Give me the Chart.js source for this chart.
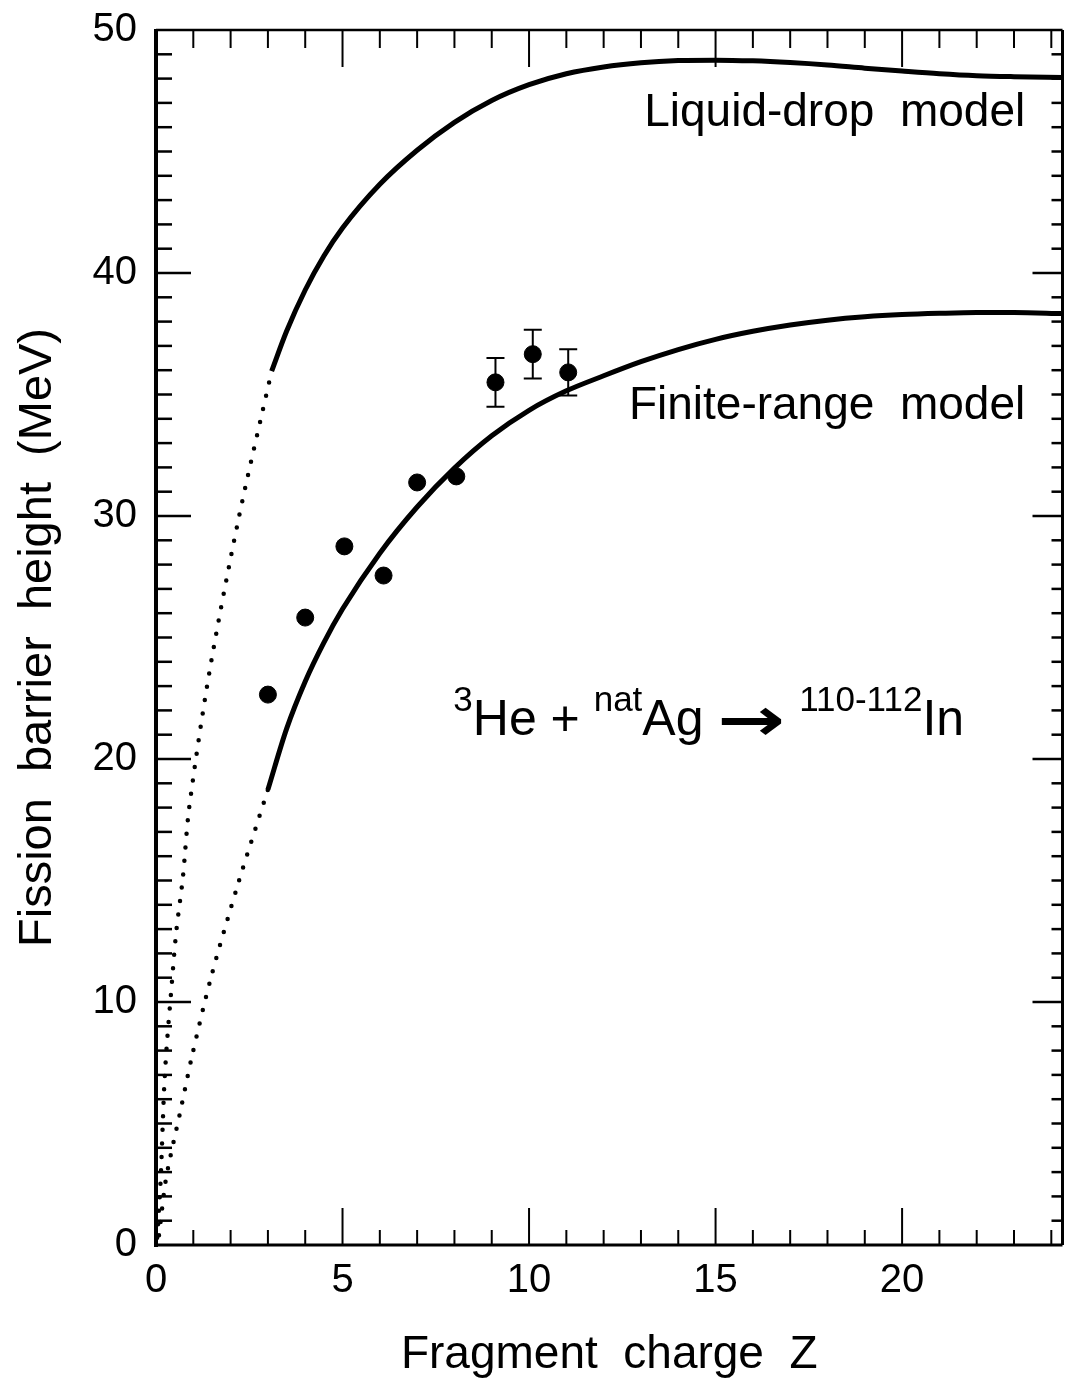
<!DOCTYPE html>
<html>
<head>
<meta charset="utf-8">
<script src="https://cdn.jsdelivr.net/npm/chart.js@4.4.1/dist/chart.umd.min.js"></script>
<style>
  html, body { margin: 0; padding: 0; background: #fff; }
  #wrap { width: 1072px; height: 1386px; position: relative; }
</style>
</head>
<body>
<div id="wrap"><canvas id="chart"></canvas></div>
<script>
// Liquid-drop model (solid part)
const ldZ = [3.1, 3.5, 4.0, 4.5, 5.0, 6.0, 7.0, 8.0, 9.0, 10.0, 11.0, 12.0, 13.0, 14.0, 15.0, 16.0, 17.0, 18.0, 19.0, 20.0, 21.0, 22.0, 23.0, 24.3];
const ldB = [35.96, 37.6, 39.3, 40.7, 41.85, 43.65, 45.05, 46.2, 47.1, 47.75, 48.2, 48.48, 48.65, 48.74, 48.76, 48.73, 48.66, 48.56, 48.43, 48.31, 48.2, 48.12, 48.08, 48.05];
// Liquid-drop model (dotted extrapolation)
const ldExtZ = [0.03, 0.12, 0.22, 0.29, 0.41, 0.54, 0.72, 0.89, 1.43, 2.21, 3.1];
const ldExtB = [0.3, 2.55, 6.5, 8.24, 10.5, 12.85, 15.12, 18.0, 23.56, 29.86, 35.96];

// Finite-range model (solid part)
const frZ = [3.0, 3.5, 4.0, 4.5, 5.0, 6.0, 7.0, 8.0, 9.0, 10.0, 11.0, 12.0, 13.0, 14.0, 15.0, 16.0, 17.0, 18.0, 19.0, 20.0, 21.0, 22.0, 23.0, 24.3];
const frB = [18.74, 21.24, 23.19, 24.79, 26.17, 28.47, 30.37, 31.97, 33.3, 34.35, 35.15, 35.77, 36.35, 36.85, 37.27, 37.6, 37.86, 38.06, 38.2, 38.29, 38.34, 38.37, 38.37, 38.33];
// Finite-range model (dotted extrapolation)
const frExtZ = [0.08, 0.25, 0.39, 0.65, 0.96, 1.48, 2.21, 3.0];
const frExtB = [0.4, 2.55, 3.67, 5.48, 7.74, 11.04, 14.91, 18.74];

// Measured barriers, 3He + natAg
const expZ = [3.0, 4.0, 5.05, 6.1, 7.0, 8.05, 9.1, 10.1, 11.05];
const expB = [22.65, 25.82, 28.75, 27.55, 31.38, 31.63, 35.5, 36.66, 35.91];
const expErr = [0, 0, 0, 0, 0, 0, 1.0, 1.0, 0.95];

const xTickLabels = [0, 5, 10, 15, 20];
const yTickLabels = [0, 10, 20, 30, 40, 50];

const FONT = "'Liberation Sans', Arial, Helvetica, sans-serif";
Chart.defaults.font.family = FONT;
Chart.defaults.color = '#000';

function pts(xs, ys) {
    return xs.map((v, i) => ({ x: v, y: ys[i] }));
}

function noPad(s) {
    s.paddingTop = 0;
    s.paddingBottom = 0;
    s.paddingLeft = 0;
    s.paddingRight = 0;
}

// inward ticks on all four sides + frame
const framePlugin = {
    id: 'frame',
    afterDatasetsDraw(chart) {
        const { ctx, chartArea: a, scales: { x, y } } = chart;
        ctx.save();
        ctx.strokeStyle = '#000';
        ctx.lineCap = 'butt';

        function seg(x1, y1, x2, y2) {
            ctx.beginPath();
            ctx.moveTo(x1, y1);
            ctx.lineTo(x2, y2);
            ctx.stroke();
        }

        ctx.lineWidth = 2;
        for (let v = 1; v <= 24; v++) {
            const px = x.getPixelForValue(v);
            const major = v % 5 === 0;
            seg(px, a.bottom, px, a.bottom - (major ? 37 : 15));
            seg(px, a.top, px, a.top + (major ? 37 : 18));
        }
        ctx.lineWidth = 2.5;
        for (let v = 1; v < 50; v++) {
            const py = y.getPixelForValue(v);
            const major = v % 10 === 0;
            seg(a.left, py, a.left + (major ? 35 : 16), py);
            seg(a.right, py, a.right - (major ? 30 : 11), py);
        }

        ctx.lineWidth = 4;
        seg(a.left, a.top - 1, a.left, a.bottom + 2);
        ctx.lineWidth = 3;
        seg(a.left, a.bottom, a.right, a.bottom);
        seg(a.right, a.top, a.right, a.bottom);
        ctx.lineWidth = 2.5;
        seg(a.left, a.top, a.right, a.top);
        ctx.restore();
    }
};

// error bars for the measured points
const errorBarPlugin = {
    id: 'errorBars',
    afterDatasetsDraw(chart) {
        const { ctx, scales: { x, y } } = chart;
        ctx.save();
        ctx.strokeStyle = '#000';
        ctx.lineWidth = 2;
        expZ.forEach((z, i) => {
            if (!expErr[i]) return;
            const px = x.getPixelForValue(z);
            const top = y.getPixelForValue(expB[i] + expErr[i]);
            const bot = y.getPixelForValue(expB[i] - expErr[i]);
            ctx.beginPath();
            ctx.moveTo(px, top); ctx.lineTo(px, bot);
            ctx.moveTo(px - 9, top); ctx.lineTo(px + 9, top);
            ctx.moveTo(px - 9, bot); ctx.lineTo(px + 9, bot);
            ctx.stroke();
        });
        ctx.restore();
    }
};

// curve names and reaction label
const textPlugin = {
    id: 'texts',
    afterDatasetsDraw(chart) {
        const { ctx, scales: { x, y } } = chart;
        ctx.save();
        ctx.fillStyle = '#000';
        ctx.textBaseline = 'alphabetic';

        ctx.font = '46px ' + FONT;
        ctx.textAlign = 'right';
        ctx.fillText('Liquid-drop  model', x.getPixelForValue(23.3), y.getPixelForValue(46.05));
        ctx.fillText('Finite-range  model', x.getPixelForValue(23.3), y.getPixelForValue(34.0));

        // 3He + natAg -> 110-112In
        const parts = [
            ['3', 'sup'], ['He', 'main'], [' + ', 'main'], ['nat', 'sup'], ['Ag', 'main'],
            [' ', 'main'], ['\u2192', 'arrow'], [' ', 'main'], ['110-112', 'sup'], ['In', 'main']
        ];
        const fonts = {
            main: '50px ' + FONT,
            sup: '35px ' + FONT,
            arrow: "bold 60px 'DejaVu Sans', sans-serif"
        };
        const shift = { main: 0, sup: -24, arrow: 5 };
        const stretch = { main: 1, sup: 1, arrow: 1.35 };
        ctx.textAlign = 'left';
        let cx = x.getPixelForValue(7.97);
        const base = y.getPixelForValue(21.0);
        parts.forEach(([t, kind]) => {
            ctx.font = fonts[kind];
            ctx.save();
            ctx.translate(cx, base + shift[kind]);
            ctx.scale(stretch[kind], 1);
            ctx.fillText(t, 0, 0);
            ctx.restore();
            cx += ctx.measureText(t).width * stretch[kind];
        });
        ctx.restore();
    }
};

const solidLine = {
    type: 'line',
    showLine: true,
    borderColor: '#000',
    borderWidth: 5,
    pointRadius: 0,
    fill: false,
    cubicInterpolationMode: 'monotone'
};

const dottedLine = {
    type: 'line',
    showLine: true,
    borderColor: '#000',
    borderWidth: 4.5,
    borderDash: [0, 13.5],
    borderCapStyle: 'round',
    pointRadius: 0,
    fill: false,
    tension: 0.3
};

new Chart(document.getElementById('chart'), {
    type: 'scatter',
    data: {
        datasets: [
            Object.assign({ label: 'Liquid-drop model', data: pts(ldZ, ldB) }, solidLine),
            Object.assign({ label: 'Liquid-drop extrapolation', data: pts(ldExtZ, ldExtB) }, dottedLine),
            Object.assign({ label: 'Finite-range model', data: pts(frZ, frB) }, solidLine),
            Object.assign({ label: 'Finite-range extrapolation', data: pts(frExtZ, frExtB) }, dottedLine),
            {
                label: 'Experiment',
                data: pts(expZ, expB),
                backgroundColor: '#000',
                borderColor: '#000',
                pointRadius: 8.5,
                pointHoverRadius: 8.5,
                showLine: false
            }
        ]
    },
    options: {
        responsive: true,
        maintainAspectRatio: false,
        animation: false,
        layout: { padding: { top: 30, right: 2, left: 0, bottom: 0 } },
        plugins: {
            legend: { display: false },
            tooltip: { enabled: false }
        },
        scales: {
            x: {
                type: 'linear',
                min: 0,
                max: 24.3,
                grid: { display: false, drawTicks: false },
                border: { display: false },
                afterBuildTicks: s => { s.ticks = xTickLabels.map(v => ({ value: v })); },
                afterFit: s => { s.height = 141; noPad(s); },
                ticks: { font: { size: 40 }, color: '#000', padding: 12, maxRotation: 0, autoSkip: false },
                title: {
                    display: true,
                    text: 'Fragment  charge  Z',
                    font: { size: 46 },
                    color: '#000',
                    padding: { top: 0, bottom: 3 }
                }
            },
            y: {
                type: 'linear',
                min: 0,
                max: 50,
                grid: { display: false, drawTicks: false },
                border: { display: false },
                afterBuildTicks: s => { s.ticks = yTickLabels.map(v => ({ value: v })); },
                afterFit: s => { s.width = 156; noPad(s); },
                ticks: { font: { size: 40 }, color: '#000', padding: 19, autoSkip: false },
                title: {
                    display: true,
                    text: 'Fission  barrier  height  (MeV)',
                    font: { size: 47 },
                    color: '#000',
                    padding: { top: 10, bottom: 0 }
                }
            }
        }
    },
    plugins: [framePlugin, errorBarPlugin, textPlugin]
});
</script>
</body>
</html>
